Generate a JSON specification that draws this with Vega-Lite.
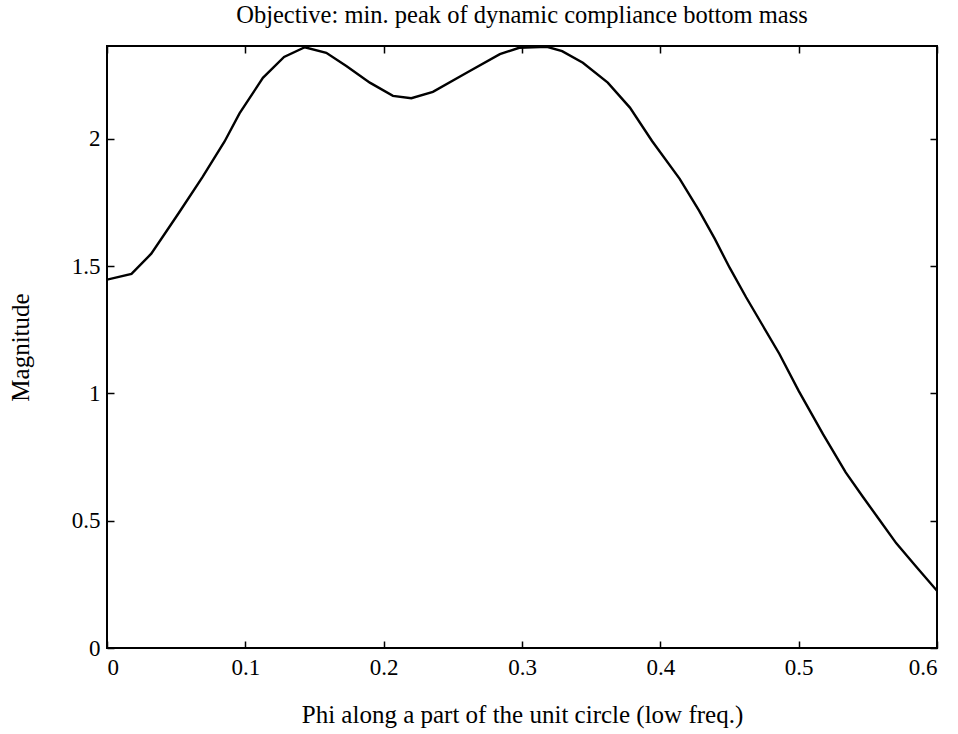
{
  "$schema": "https://vega.github.io/schema/vega-lite/v6.json",
  "width": 830,
  "height": 602,
  "autosize": {"type": "none"},
  "padding": {"left": 107, "top": 46, "right": 21, "bottom": 86},
  "background": "white",
  "config": {
    "view": {"stroke": "black", "strokeWidth": 2},
    "font": "Liberation Serif",
    "axis": {
      "domain": false,
      "grid": false,
      "ticks": true,
      "tickSize": -7,
      "tickColor": "black",
      "tickWidth": 1.5,
      "labelFont": "Liberation Serif",
      "labelFontSize": 23,
      "labelColor": "black",
      "titleFont": "Liberation Serif",
      "titleFontSize": 25,
      "titleFontWeight": "normal",
      "titleColor": "black"
    }
  },
  "title": {
    "text": "Objective: min. peak of dynamic compliance bottom mass",
    "font": "Liberation Serif",
    "fontSize": 24.5,
    "fontWeight": "normal",
    "color": "black",
    "anchor": "middle",
    "offset": 17
  },
  "data": {
    "values": [
      {"phi": 0, "mag": 1.447},
      {"phi": 0.0177, "mag": 1.47},
      {"phi": 0.032, "mag": 1.549},
      {"phi": 0.052, "mag": 1.71},
      {"phi": 0.069, "mag": 1.85},
      {"phi": 0.085, "mag": 1.99},
      {"phi": 0.0958, "mag": 2.1},
      {"phi": 0.1127, "mag": 2.24},
      {"phi": 0.128, "mag": 2.322},
      {"phi": 0.143, "mag": 2.36},
      {"phi": 0.1585, "mag": 2.338},
      {"phi": 0.173, "mag": 2.286},
      {"phi": 0.19, "mag": 2.221},
      {"phi": 0.2067, "mag": 2.169},
      {"phi": 0.22, "mag": 2.16},
      {"phi": 0.2356, "mag": 2.185},
      {"phi": 0.26, "mag": 2.26},
      {"phi": 0.284, "mag": 2.333},
      {"phi": 0.298, "mag": 2.358},
      {"phi": 0.318, "mag": 2.362},
      {"phi": 0.329, "mag": 2.345},
      {"phi": 0.344, "mag": 2.299},
      {"phi": 0.362, "mag": 2.221},
      {"phi": 0.378, "mag": 2.123},
      {"phi": 0.394, "mag": 1.992},
      {"phi": 0.414, "mag": 1.843},
      {"phi": 0.428, "mag": 1.718},
      {"phi": 0.4393, "mag": 1.608},
      {"phi": 0.45, "mag": 1.495},
      {"phi": 0.462, "mag": 1.378},
      {"phi": 0.474, "mag": 1.267},
      {"phi": 0.486, "mag": 1.156},
      {"phi": 0.5, "mag": 1.01},
      {"phi": 0.5176, "mag": 0.84},
      {"phi": 0.534, "mag": 0.69},
      {"phi": 0.5465, "mag": 0.593},
      {"phi": 0.5586, "mag": 0.502},
      {"phi": 0.5706, "mag": 0.411},
      {"phi": 0.585, "mag": 0.319},
      {"phi": 0.6, "mag": 0.225}
    ]
  },
  "layer": [
    {
      "mark": {"type": "line", "color": "black", "strokeWidth": 2.4, "clip": true},
      "encoding": {
        "x": {
          "field": "phi",
          "type": "quantitative",
          "scale": {"domain": [0, 0.6], "nice": false, "zero": false},
          "axis": {
            "orient": "bottom",
            "values": [0, 0.1, 0.2, 0.3, 0.4, 0.5, 0.6],
            "format": "~g",
            "labelPadding": 15,
            "title": "Phi along a part of the unit circle (low freq.)",
            "titlePadding": 23
          }
        },
        "y": {
          "field": "mag",
          "type": "quantitative",
          "scale": {"domain": [0, 2.365], "nice": false, "zero": false},
          "axis": {
            "orient": "left",
            "values": [0, 0.5, 1, 1.5, 2],
            "format": "~g",
            "labelPadding": 14,
            "title": "Magnitude",
            "titlePadding": 38
          }
        }
      }
    },
    {
      "mark": {"type": "line", "strokeOpacity": 0},
      "encoding": {
        "x": {
          "field": "phi",
          "type": "quantitative",
          "scale": {"domain": [0, 0.6], "nice": false, "zero": false},
          "axis": {"orient": "top", "values": [0, 0.1, 0.2, 0.3, 0.4, 0.5, 0.6], "labels": false, "title": null}
        },
        "y": {
          "field": "mag",
          "type": "quantitative",
          "scale": {"domain": [0, 2.365], "nice": false, "zero": false},
          "axis": {"orient": "right", "values": [0, 0.5, 1, 1.5, 2], "labels": false, "title": null}
        }
      }
    }
  ],
  "resolve": {"scale": {"x": "independent", "y": "independent"}}
}
